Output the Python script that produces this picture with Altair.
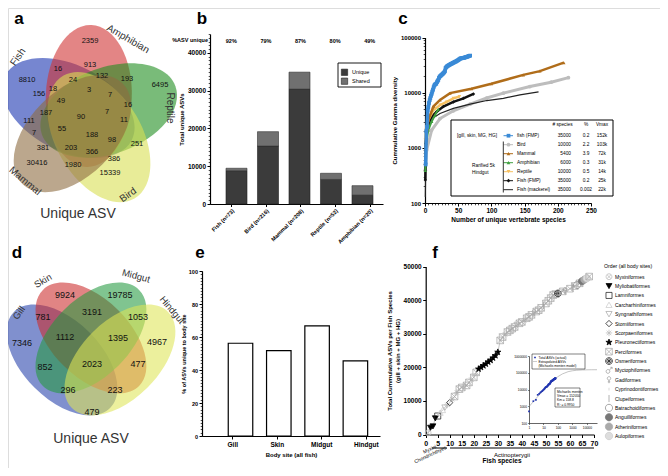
import altair as alt
import pandas as pd

W, H = 652, 460
M = 8
FONT = "Liberation Sans"

# ======================= data =======================
# (a) five-group Venn of unique ASVs
venn5_sets = ["Fish", "Amphibian", "Reptile", "Bird", "Mammal"]
venn5_counts = [8810, 2359, 6495, 15339, 30416, 16, 913, 132, 193, 24, 18, 156, 3, 7, 16,
                49, 187, 90, 7, 11, 111, 55, 7, 188, 98, 251, 381, 203, 366, 386, 1980]
# (b) unique vs shared ASVs per host group
b_groups = ["Fish (n=73)", "Bird (n=216)", "Mammal (n=208)", "Reptile (n=52)", "Amphibian (n=20)"]
b_unique = [8810, 15339, 30416, 6495, 2359]
b_total = [9460, 19150, 34900, 8130, 4850]
b_pct = ["92%", "79%", "87%", "80%", "49%"]
b_stack = ["Unique", "Shared"]
# (c) cumulative gamma diversity curves
c_bird_n = [0.5, 2.5, 10, 22.6, 42.7, 68, 93, 118, 158, 190, 216]
c_bird_v = [390, 910, 2100, 3400, 4700, 6200, 8000, 9800, 12900, 15500, 18700]
c_mammal_n = [0.5, 1.5, 5, 12.6, 22.6, 37.7, 70, 100, 148, 173, 209]
c_mammal_v = [530, 1380, 3200, 5600, 7400, 9800, 11800, 14500, 21000, 24600, 35000]
c_mack_n = [0.5, 1.5, 5, 12.6, 22.6, 42.7, 68, 93, 118, 143, 171]
c_mack_v = [128, 1220, 2400, 3500, 4200, 5200, 6200, 7200, 7900, 9100, 10300]
c_fmp5k_n = [0.5, 1, 3.5, 10, 17.6, 27.6, 42.7, 58, 73]
c_fmp5k_v = [260, 1200, 2400, 3660, 4500, 5600, 6800, 7900, 9500]
c_rept_n = [0.5, 1.5, 5, 12.6, 22.6, 32.6, 42.7, 52]
c_rept_v = [1380, 2100, 3200, 4800, 5960, 6800, 7900, 8500]
c_amph_n = [0.5, 1.5, 5, 10, 15, 20]
c_amph_v = [390, 1200, 2100, 3000, 3900, 5000]
c_leg_keys = ["fish (FMP)", "Bird", "Mammal", "Amphibian", "Reptile", "Fish (FMP) 5k", "Fish (mackerel)"]
c_leg_labels = ["fish (FMP)", "Bird", "Mammal", "Amphibian", "Reptile", "Fish (FMP)", "Fish (mackerel)"]
c_leg_species = ["35000", "10000", "5400", "6000", "10000", "35000", "35000"]
c_leg_pct = ["0.2", "2.2", "3.9", "0.3", "0.5", "0.2", "0.002"]
c_leg_vmax = ["152k", "103k", "72k", "31k", "14k", "25k", "22k"]
# (d) four body-site Venn
venn4_sets = ["Gill", "Skin", "Midgut", "Hindgut"]
venn4_counts = [7346, 9924, 19785, 4967, 781, 3191, 1053, 1112, 1395, 852, 2023, 477, 296, 223, 479]
# (e) % ASVs unique to body site
e_sites = ["Gill", "Skin", "Midgut", "Hindgut"]
e_pct = [56.2, 51.7, 66.7, 45.5]
# (f) cumulative ASVs per fish species
f_asv = [500, 2000, 2400, 4800, 5500, 6500, 7300, 8000, 8800, 9500,
         10500, 11300, 12500, 13500, 14000, 14300, 14600, 15500, 16300, 17000,
         18500, 19500, 20000, 20500, 21000, 21600, 22100, 22800, 23500, 24500,
         28000, 29000, 29800, 30500, 31000, 31500, 32000, 32600, 33100, 33500,
         34000, 34600, 35000, 35600, 36200, 36600, 37000, 37700, 38400, 39000,
         39800, 40600, 41500, 41800, 42000, 42300, 42600, 42800, 43000, 43400,
         43800, 44200, 44500, 45000, 45600, 46100, 46500, 47000]
f_species = list(range(1, len(f_asv) + 1))
f_orders = ["Myxiniformes", "Myliobatiformes", "Lamniformes", "Carcharhiniformes", "Syngnathiformes",
            "Stomiiformes", "Scorpaeniformes", "Pleuronectiformes", "Perciformes", "Osmeriformes",
            "Myctophiformes", "Gadiformes", "Cyprinodontiformes", "Clupeiformes", "Batrachoidiformes",
            "Anguilliformes", "Atheriniformes", "Aulopiformes"]
f_order = (["Myxiniformes"] + ["Myliobatiformes"] * 3
           + ["Lamniformes", "Carcharhiniformes", "Carcharhiniformes", "Syngnathiformes", "Scorpaeniformes", "Stomiiformes"]
           + ["Scorpaeniformes", "Perciformes", "Scorpaeniformes", "Perciformes", "Perciformes", "Scorpaeniformes",
              "Perciformes", "Perciformes", "Scorpaeniformes", "Perciformes", "Perciformes"]
           + ["Pleuronectiformes"] * 9
           + ["Perciformes", "Perciformes", "Scorpaeniformes", "Perciformes", "Perciformes", "Perciformes",
              "Perciformes", "Syngnathiformes", "Perciformes", "Perciformes", "Scorpaeniformes", "Perciformes",
              "Perciformes", "Perciformes", "Gadiformes", "Perciformes", "Perciformes", "Perciformes",
              "Clupeiformes", "Perciformes", "Perciformes", "Perciformes", "Perciformes", "Perciformes"]
           + ["Osmeriformes"]
           + ["Myctophiformes", "Perciformes", "Gadiformes", "Cyprinodontiformes", "Perciformes", "Clupeiformes",
              "Perciformes", "Batrachoidiformes", "Perciformes", "Anguilliformes", "Atheriniformes", "Aulopiformes",
              "Perciformes"])
# inset: Michaelis-Menten extrapolation
mm_n = [1, 2, 5, 10, 20, 50, 100, 200, 500, 1000, 2000, 5000, 10000, 20000, 50000]
mm_v = [950, 1900, 4650, 9000, 17000, 36500, 58700, 84700, 115500, 131200, 140800, 147300, 149700, 150900, 151600]

# ======================= layout (reference-pixel frame) =======================
V5_ELL = [(68.4, 108.0, 207), (88.8, 96.0, 272), (108.7, 110.5, 340), (99.0, 137.1, 60), (72.4, 133.6, 135)]
V5_RX, V5_RY = 71, 43
V5_COLORS = ["#1a36b0", "#d03434", "#1f8e1f", "#d9df53", "#8e6d41"]
V5_LABEL_XY = [(27, 80), (90, 41), (160, 85), (110, 173), (37, 163), (58, 69), (90, 65), (102, 76), (127, 79),
               (73, 80), (53, 89), (39, 94), (89, 90), (110, 95), (128, 105), (61, 101), (46, 113), (81, 117),
               (107, 112), (124, 120), (29, 121), (62, 129), (34, 133), (92, 135), (112, 140), (137, 144),
               (43, 148), (71, 148), (92, 152), (114, 159), (73, 165)]
V5_SET_XY = [(18, 57, -55), (128, 39, 30), (170, 108, 90), (128, 195, -35), (25, 181, 40)]

V4_ELL = [(62, 360, 45), (91, 338, 45), (91, 338, 315), (120, 360, 315)]
V4_RX, V4_RY = 68, 39
V4_COLORS = ["#2440aa", "#cb2b2b", "#25993f", "#dfe657"]
V4_LABEL_XY = [(22, 343), (65, 295), (120, 295), (157, 342), (43, 317), (92, 312), (138, 317), (65, 337),
               (118, 338), (45, 367), (92, 364), (138, 364), (68, 390), (115, 390), (92, 412)]
V4_SET_XY = [(19, 313, -55), (43, 281, -30), (136, 276, 15), (172, 310, 50)]

C_KEYS = c_leg_keys
C_COLORS = ["#3a8ad6", "#bdbdbd", "#b06d1a", "#3f9f3f", "#f6c060", "#111111", "#222222"]
C_SHAPES = ["square", "circle", "triangle-up", "triangle-up", "triangle-down", "diamond", "stroke"]
C_WIDTH = [3.5, 3, 2.5, 2, 2.5, 2.5, 1.2]
C_MSIZE = [14, 14, 12, 12, 12, 12, 6]

CIRCLE = "M 1 0 C 1 0.552 0.552 1 0 1 C -0.552 1 -1 0.552 -1 0 C -1 -0.552 -0.552 -1 0 -1 C 0.552 -1 1 -0.552 1 0 Z"
XLINES = " M -0.7 -0.7 L 0.7 0.7 M -0.7 0.7 L 0.7 -0.7"
ASTER = "M -1 0 L 1 0 M 0 -1 L 0 1" + XLINES
STAR = "M 0 -1 L 0.235 -0.324 L 0.951 -0.309 L 0.38 0.124 L 0.588 0.809 L 0 0.4 L -0.588 0.809 L -0.38 0.124 L -0.951 -0.309 L -0.235 -0.324 Z"
SQX = "M -1 -1 L 1 -1 L 1 1 L -1 1 Z M -1 -1 L 1 1 M -1 1 L 1 -1"
MALE = ("M 0.25 0.3 C 0.25 0.604 0.004 0.85 -0.3 0.85 C -0.604 0.85 -0.85 0.604 -0.85 0.3 "
        "C -0.85 -0.004 -0.604 -0.25 -0.3 -0.25 C 0.004 -0.25 0.25 -0.004 0.25 0.3 Z "
        "M 0.09 -0.09 L 0.9 -0.9 M 0.4 -0.9 L 0.9 -0.9 L 0.9 -0.4")
FEMALE = ("M 0.5 -0.4 C 0.5 -0.124 0.276 0.1 0 0.1 C -0.276 0.1 -0.5 -0.124 -0.5 -0.4 "
          "C -0.5 -0.676 -0.276 -0.9 0 -0.9 C 0.276 -0.9 0.5 -0.676 0.5 -0.4 Z M 0 0.1 L 0 1 M -0.35 0.6 L 0.35 0.6")
ORDER_SHAPES = [CIRCLE + XLINES, "triangle-down", "square", "triangle-up", "triangle-down", "diamond", ASTER, STAR,
                SQX, CIRCLE + " " + ASTER, MALE, FEMALE, "M 0 -0.4 L 0 0.4", "M 0 -1 L 0 1", CIRCLE, CIRCLE, CIRCLE, CIRCLE]
ORDER_FILL = ["transparent", "#000000", "transparent", "transparent", "transparent", "transparent", "transparent",
              "#000000", "transparent", "transparent", "transparent", "transparent", "transparent", "transparent",
              "transparent", "#777777", "#aaaaaa", "#dddddd"]
ORDER_STROKE = ["#bbbbbb", "#000000", "#222222", "#cccccc", "#aaaaaa", "#111111", "#bbbbbb", "#000000", "#aaaaaa",
                "#222222", "#999999", "#999999", "#cccccc", "#999999", "#888888", "#777777", "#aaaaaa", "#cccccc"]
ORDER_SIZE = [34, 55, 50, 34, 34, 40, 34, 55, 34, 40, 34, 34, 34, 34, 34, 34, 34, 34]


def px(v):
    return v - M


def py(v):
    return v - M


def ellipse_path(b):
    k = 0.5523
    kb = k * b
    return (f"M 1 0 C 1 {kb:.4f} {k} {b:.4f} 0 {b:.4f} C {-k} {b:.4f} -1 {kb:.4f} -1 0 "
            f"C -1 {-kb:.4f} {-k} {-b:.4f} 0 {-b:.4f} C {k} {-b:.4f} 1 {-kb:.4f} 1 0 Z")


FX = alt.Scale(domain=[0, 668], range=[-M, 668 - M], nice=False, zero=False)
FY = alt.Scale(domain=[0, 476], range=[-M, 476 - M], nice=False, zero=False)
one = pd.DataFrame({"k": [0]})
layers = []


def label(text, x, y, size=6, weight="bold", align="center", baseline="middle", angle=0, color="black"):
    return alt.Chart(one).mark_text(text=text, fontSize=size, fontWeight=weight, align=align, baseline=baseline,
                                    angle=angle % 360, color=color, font=FONT).encode(
        x=alt.value(px(x)), y=alt.value(py(y)))


def box(x0, y0, x1, y1, fill="white", stroke="black", sw=1.0):
    return alt.Chart(one).mark_rect(fill=fill, stroke=stroke, strokeWidth=sw).encode(
        x=alt.value(px(x0)), x2=alt.value(px(x1)), y=alt.value(py(y0)), y2=alt.value(py(y1)))


def hline(x0, x1, y, color="black", sw=1.0):
    return alt.Chart(one).mark_rule(color=color, strokeWidth=sw).encode(
        x=alt.value(px(x0)), x2=alt.value(px(x1)), y=alt.value(py(y)))


def vline(x, y0, y1, color="black", sw=1.0):
    return alt.Chart(one).mark_rule(color=color, strokeWidth=sw).encode(
        x=alt.value(px(x)), y=alt.value(py(y0)), y2=alt.value(py(y1)))


def axis(orient, at, **kw):
    off = -px(at) if orient == "left" else py(at) - H
    base = dict(orient=orient, offset=off, grid=False, domainColor="black", domainWidth=1.2, tickColor="black",
                tickWidth=1, tickSize=3, labelColor="black", labelFont=FONT, labelFontWeight="bold",
                labelFontSize=6.5, labelPadding=1.5, titleColor="black", titleFont=FONT, titleFontWeight="bold",
                titleFontSize=6.5, titlePadding=3, labelFlush=False, labelOverlap=False, title=None)
    base.update(kw)
    return alt.Axis(**base)


def axis_layer(channel, scale, ax, value, typ="Q"):
    d = pd.DataFrame({"v": [value]})
    field = f"v:{typ}"
    enc = alt.X(field, scale=scale, axis=ax) if channel == "x" else alt.Y(field, scale=scale, axis=ax)
    return alt.Chart(d).mark_point(opacity=0).encode(**{channel: enc})


def venn(sets, counts, ell, rx, ry, colors, label_xy, set_xy, count_size, set_size, opacity):
    df_e = pd.DataFrame({"set": sets, "cx": [e[0] for e in ell], "cy": [e[1] for e in ell],
                         "rot": [e[2] % 360 for e in ell]})
    out = [alt.Chart(df_e).mark_point(filled=True, opacity=opacity, strokeWidth=0, shape=ellipse_path(ry / rx),
                                      size=(2 * rx) ** 2).encode(
        x=alt.X("cx:Q", scale=FX, axis=None), y=alt.Y("cy:Q", scale=FY, axis=None),
        angle=alt.Angle("rot:Q", scale=None),
        color=alt.Color("set:N", scale=alt.Scale(domain=sets, range=colors), legend=None))]
    df_l = pd.DataFrame({"n": [str(c) for c in counts], "lx": [p[0] for p in label_xy],
                         "ly": [p[1] for p in label_xy]})
    out.append(alt.Chart(df_l).mark_text(fontSize=count_size, font=FONT, color="#111").encode(
        x=alt.X("lx:Q", scale=FX, axis=None), y=alt.Y("ly:Q", scale=FY, axis=None), text="n:N"))
    for s, (sx, sy, sa) in zip(sets, set_xy):
        out.append(label(s, sx, sy, size=set_size, weight="normal", angle=sa, color="#333"))
    return out


def panel_letter(t, x, y):
    return label(t, x, y, size=17, baseline="alphabetic")


# ======================= panel a =======================
layers += venn(venn5_sets, venn5_counts, V5_ELL, V5_RX, V5_RY, V5_COLORS, V5_LABEL_XY, V5_SET_XY, 7.5, 10, 0.6)
layers.append(label("Unique ASV", 78, 214, size=14, weight="normal", color="#333"))
layers.append(panel_letter("a", 19, 24))

# ======================= panel b =======================
BX = alt.Scale(domain=b_groups, range=[px(210), px(383)], paddingInner=0.333, paddingOuter=0.413, align=0.615)
BY = alt.Scale(domain=[0, 45000], range=[py(204), py(34)], nice=False, zero=False)
df_b = pd.DataFrame({"group": b_groups, "unique": b_unique, "total": b_total, "pct": b_pct})
layers.append(alt.Chart(df_b).mark_bar(color="#3b3b3b", stroke="#222", strokeWidth=0.6).encode(
    x=alt.X("group:N", scale=BX, axis=None), y=alt.Y("unique:Q", scale=BY, axis=None), y2=alt.datum(0)))
layers.append(alt.Chart(df_b).mark_bar(color="#707070", stroke="#333", strokeWidth=0.6).encode(
    x=alt.X("group:N", scale=BX, axis=None), y=alt.Y("unique:Q", scale=BY, axis=None), y2="total:Q"))
layers.append(alt.Chart(df_b).mark_text(fontSize=5.5, fontWeight="bold", font=FONT).encode(
    x=alt.X("group:N", scale=BX, axis=None), y=alt.value(py(41)), text="pct:N"))
layers.append(axis_layer("x", BX, axis("bottom", 204, labelAngle=315, labelFontSize=5.5, labelAlign="right",
                                       labelBaseline="top", tickSize=2.5), b_groups[0], "N"))
layers.append(axis_layer("y", BY, axis("left", 210, values=list(range(0, 45001, 10000)), format="d",
                                       labelFontSize=6.5, title="Total unique ASVs", titleFontSize=6), 0))
layers.append(axis_layer("y", BY, axis("left", 210, values=list(range(0, 45001, 1000)), labels=False,
                                       domain=False, tickSize=1.8, tickWidth=0.7), 0))
layers.append(label("%ASV unique", 208, 39.5, size=5.5, align="right"))
layers.append(box(338, 63, 381, 87, sw=0.9))
df_bl = pd.DataFrame({"s": b_stack})
BLY = alt.Scale(type="point", domain=b_stack, range=[py(72.3), py(81.2)], padding=0)
layers.append(alt.Chart(df_bl).mark_square(size=40, opacity=1, stroke="#222", strokeWidth=0.6).encode(
    x=alt.value(px(344.5)), y=alt.Y("s:N", scale=BLY, axis=None),
    color=alt.Color("s:N", scale=alt.Scale(domain=b_stack, range=["#3b3b3b", "#707070"]), legend=None)))
layers.append(alt.Chart(df_bl).mark_text(fontSize=5.5, align="left", font=FONT).encode(
    x=alt.value(px(352)), y=alt.Y("s:N", scale=BLY, axis=None), text="s:N"))
layers.append(panel_letter("b", 202, 24))

# ======================= panel c =======================
CX = alt.Scale(domain=[0, 250], range=[px(425), px(591)], nice=False, zero=False)
CY = alt.Scale(type="log", domain=[100, 100000], range=[py(203), py(37.5)], nice=False)
c_data = {"fish (FMP)": (f_species, f_asv), "Bird": (c_bird_n, c_bird_v), "Mammal": (c_mammal_n, c_mammal_v),
          "Amphibian": (c_amph_n, c_amph_v), "Reptile": (c_rept_n, c_rept_v),
          "Fish (FMP) 5k": (c_fmp5k_n, c_fmp5k_v), "Fish (mackerel)": (c_mack_n, c_mack_v)}
for key in ["Bird", "Fish (mackerel)", "Fish (FMP) 5k", "Reptile", "Amphibian", "Mammal", "fish (FMP)"]:
    n, v = c_data[key]
    i = C_KEYS.index(key)
    d = pd.DataFrame({"n": n, "v": v})
    layers.append(alt.Chart(d).mark_line(color=C_COLORS[i], strokeWidth=C_WIDTH[i]).encode(
        x=alt.X("n:Q", scale=CX, axis=None), y=alt.Y("v:Q", scale=CY, axis=None)))
    layers.append(alt.Chart(d).mark_point(shape=C_SHAPES[i], filled=True, color=C_COLORS[i], size=C_MSIZE[i],
                                          opacity=1).encode(
        x=alt.X("n:Q", scale=CX, axis=None), y=alt.Y("v:Q", scale=CY, axis=None)))
layers.append(axis_layer("x", CX, axis("bottom", 203, values=list(range(0, 251, 50)), format="d",
                                       title="Number of unique vertebrate species", titleFontSize=6.5,
                                       titlePadding=2), 0))
layers.append(axis_layer("x", CX, axis("bottom", 203, values=list(range(0, 251, 5)), labels=False, domain=False,
                                       tickSize=1.8, tickWidth=0.7), 0))
layers.append(axis_layer("y", CY, axis("left", 425, values=[100, 1000, 10000, 100000], format="d",
                                       labelFontSize=6, title="Cummulative Gamma diversity", titleFontSize=6), 100))
c_minor = [m * 10 ** e for e in (2, 3, 4) for m in range(2, 10)]
layers.append(axis_layer("y", CY, axis("left", 425, values=c_minor, labels=False, domain=False, tickSize=1.8,
                                       tickWidth=0.7), 100))
# legend table
layers.append(box(451, 120, 613, 196, sw=1))
layers.append(label("# species", 562.5, 125.3, size=4.8, weight="normal"))
layers.append(label("%", 586, 125.3, size=4.8, weight="normal"))
layers.append(label("Vmax", 602, 125.3, size=4.8, weight="normal"))
CLY = alt.Scale(type="point", domain=c_leg_keys, range=[py(135.7), py(189.7)], padding=0)
df_cl = pd.DataFrame({"key": c_leg_keys, "lab": c_leg_labels, "sp": c_leg_species, "pc": c_leg_pct,
                      "vm": c_leg_vmax})
ccol = alt.Color("key:N", scale=alt.Scale(domain=C_KEYS, range=C_COLORS), legend=None)
layers.append(alt.Chart(df_cl).mark_rule(strokeWidth=1).encode(
    x=alt.value(px(503.5)), x2=alt.value(px(513)), y=alt.Y("key:N", scale=CLY, axis=None), color=ccol))
layers.append(alt.Chart(df_cl).mark_point(filled=True, size=14, opacity=1).encode(
    x=alt.value(px(508.5)), y=alt.Y("key:N", scale=CLY, axis=None), color=ccol,
    shape=alt.Shape("key:N", scale=alt.Scale(domain=C_KEYS, range=C_SHAPES), legend=None)))
for col, xx, al in [("lab", 517, "left"), ("sp", 571, "right"), ("pc", 586, "center"), ("vm", 602, "center")]:
    layers.append(alt.Chart(df_cl).mark_text(fontSize=4.8, align=al, font=FONT).encode(
        x=alt.value(px(xx)), y=alt.Y("key:N", scale=CLY, axis=None), text=f"{col}:N"))
layers.append(label("[gill, skin, MG, HG]", 497, 135.7, size=4.8, weight="normal", align="right"))
layers.append(vline(503.3, 141.5, 192.5, sw=0.8))
layers.append(label("Rarified 5k", 472, 166, size=4.8, weight="normal", align="left"))
layers.append(label("Hindgut", 472, 173.3, size=4.8, weight="normal", align="left"))
layers.append(panel_letter("c", 403, 24))

# ======================= panel d =======================
layers += venn(venn4_sets, venn4_counts, V4_ELL, V4_RX, V4_RY, V4_COLORS, V4_LABEL_XY, V4_SET_XY, 9, 9.5, 0.58)
layers.append(label("Unique ASV", 91, 439, size=14, weight="normal", color="#333"))
layers.append(panel_letter("d", 17, 258))

# ======================= panel e =======================
EX = alt.Scale(domain=e_sites, range=[px(202), px(380)], paddingInner=0.36, paddingOuter=0.504, align=0.68)
EY = alt.Scale(domain=[0, 100], range=[py(436), py(271)], nice=False, zero=False)
df_e = pd.DataFrame({"site": e_sites, "pct": e_pct})
layers.append(alt.Chart(df_e).mark_bar(fill="white", stroke="black", strokeWidth=1.2).encode(
    x=alt.X("site:N", scale=EX, axis=None), y=alt.Y("pct:Q", scale=EY, axis=None), y2=alt.datum(0)))
layers.append(axis_layer("x", EX, axis("bottom", 436, labelAngle=0, labelFontSize=6.5, labelPadding=2,
                                       title="Body site (all fish)", titleFontSize=6, titlePadding=4),
                         e_sites[0], "N"))
layers.append(axis_layer("y", EY, axis("left", 202, values=list(range(0, 101, 20)), labelFontSize=5.5,
                                       title="% of ASVs unique to body site", titleFontSize=5.5, titlePadding=2), 0))
layers.append(axis_layer("y", EY, axis("left", 202, values=list(range(0, 101, 2)), labels=False, domain=False,
                                       tickSize=1.8, tickWidth=0.7), 0))
layers.append(panel_letter("e", 200, 258))

# ======================= panel f =======================
FXS = alt.Scale(domain=[0, 70], range=[px(425.7), px(594)], nice=False, zero=False)
FYS = alt.Scale(domain=[0, 50000], range=[py(434.5), py(266.5)], nice=False, zero=False)
df_f = pd.DataFrame({"sp": f_species, "asv": f_asv, "order": f_order})
layers.append(alt.Chart(df_f).mark_line(color="#9a9a9a", strokeWidth=0.6).encode(
    x=alt.X("sp:Q", scale=FXS, axis=None), y=alt.Y("asv:Q", scale=FYS, axis=None)))
oshape = alt.Shape("order:N", scale=alt.Scale(domain=f_orders, range=ORDER_SHAPES), legend=None)
ofill = alt.Fill("order:N", scale=alt.Scale(domain=f_orders, range=ORDER_FILL), legend=None)
ostroke = alt.Stroke("order:N", scale=alt.Scale(domain=f_orders, range=ORDER_STROKE), legend=None)
osize = alt.Size("order:O", scale=alt.Scale(domain=f_orders, range=ORDER_SIZE), legend=None)
layers.append(alt.Chart(df_f).mark_point(strokeWidth=0.75, opacity=1).encode(
    x=alt.X("sp:Q", scale=FXS, axis=None), y=alt.Y("asv:Q", scale=FYS, axis=None),
    shape=oshape, fill=ofill, stroke=ostroke, size=osize))
layers.append(axis_layer("x", FXS, axis("bottom", 434.5, values=list(range(0, 71, 5)), format="d",
                                       labelFontSize=7), 0))
layers.append(axis_layer("y", FYS, axis("left", 425.7, values=list(range(0, 50001, 10000)), format="d",
                                       labelFontSize=6.5,
                                       title=["Total Cummulative ASVs per Fish Species", "(gill + skin + MG + HG)"],
                                       titleFontSize=6, titlePadding=3, titleLineHeight=8), 0))
layers.append(hline(432, 447, 448, sw=1))
layers.append(hline(450, 594, 448, sw=1))
layers.append(label("Actinopterygii", 512, 455, size=6, weight="normal"))
layers.append(label("Myxini", 436, 446, size=5, weight="normal", align="right", angle=-25))
layers.append(label("Chondrichthyes", 446, 447, size=5, weight="normal", align="right", angle=-25))
layers.append(label("Fish species", 502, 461, size=6.5))
# order legend
df_o = pd.DataFrame({"order": f_orders})
OLY = alt.Scale(type="point", domain=f_orders, range=[py(276.7), py(436)], padding=0)
layers.append(label("Order (all body sites)", 604, 266, size=5.2, weight="normal", align="left"))
layers.append(alt.Chart(df_o).mark_point(strokeWidth=0.75, opacity=1).encode(
    x=alt.value(px(609)), y=alt.Y("order:N", scale=OLY, axis=None),
    shape=oshape, fill=ofill, stroke=ostroke, size=osize))
layers.append(alt.Chart(df_o).mark_text(fontSize=5, align="left", font=FONT).encode(
    x=alt.value(px(615)), y=alt.Y("order:N", scale=OLY, axis=None), text="order:N"))
# inset
IX = alt.Scale(type="log", domain=[1, 50000], range=[px(529), px(597)], nice=False)
IY = alt.Scale(type="log", domain=[100, 1000000], range=[py(423), py(356)], nice=False)
df_mm = pd.DataFrame({"n": mm_n, "v": mm_v})
layers.append(alt.Chart(df_mm).mark_line(color="#aaaaaa", strokeWidth=0.7).encode(
    x=alt.X("n:Q", scale=IX, axis=None), y=alt.Y("v:Q", scale=IY, axis=None)))
layers.append(alt.Chart(df_f).mark_square(color="#2236b0", size=3, opacity=1).encode(
    x=alt.X("sp:Q", scale=IX, axis=None), y=alt.Y("asv:Q", scale=IY, axis=None)))
iax = dict(labelFontSize=3.3, labelFontWeight="normal", tickSize=1.5, domainWidth=0.6, tickWidth=0.5, labelPadding=1,
           format="d")
layers.append(axis_layer("x", IX, axis("bottom", 423, values=[1, 10, 100, 1000, 10000], **iax), 1))
layers.append(axis_layer("y", IY, axis("left", 529, values=[100, 1000, 10000, 100000, 1000000], **iax), 100))
layers.append(box(532, 354, 585, 369, sw=0.5))
layers.append(alt.Chart(one).mark_square(color="#2236b0", size=3, opacity=1).encode(
    x=alt.value(px(535)), y=alt.value(py(357.5))))
layers.append(hline(533, 537, 361.5, color="#aaaaaa", sw=0.6))
layers.append(label("Total ASVs (actual)", 538.5, 357.5, size=3.3, weight="normal", align="left"))
layers.append(label("Extrapolated ASVs", 538.5, 361.5, size=3.3, weight="normal", align="left"))
layers.append(label("(Michaelis menten model)", 538.5, 365.5, size=3.3, weight="normal", align="left"))
layers.append(box(555, 388, 580, 407, sw=0.5))
for i, t in enumerate(["Michaelis menten", "Vmax = 152050", "Km = 158.8", "R\u00b2 = 0.9950"]):
    layers.append(label(t, 557, 391.5 + 4.4 * i, size=3.3, weight="normal", align="left"))
layers.append(panel_letter("f", 435, 258))

chart = alt.layer(*layers).properties(
    width=W, height=H, padding=0, autosize=alt.AutoSizeParams(type="none")
).resolve_scale(
    x="independent", y="independent", color="independent", fill="independent", stroke="independent",
    shape="independent", size="independent", angle="independent", opacity="independent"
).resolve_axis(x="independent", y="independent").resolve_legend(
    color="independent", fill="independent", stroke="independent", shape="independent", size="independent"
).configure_view(stroke=None).configure(font=FONT, background="white")

chart.save("out.html", embed_options={"renderer": "svg", "actions": False})
